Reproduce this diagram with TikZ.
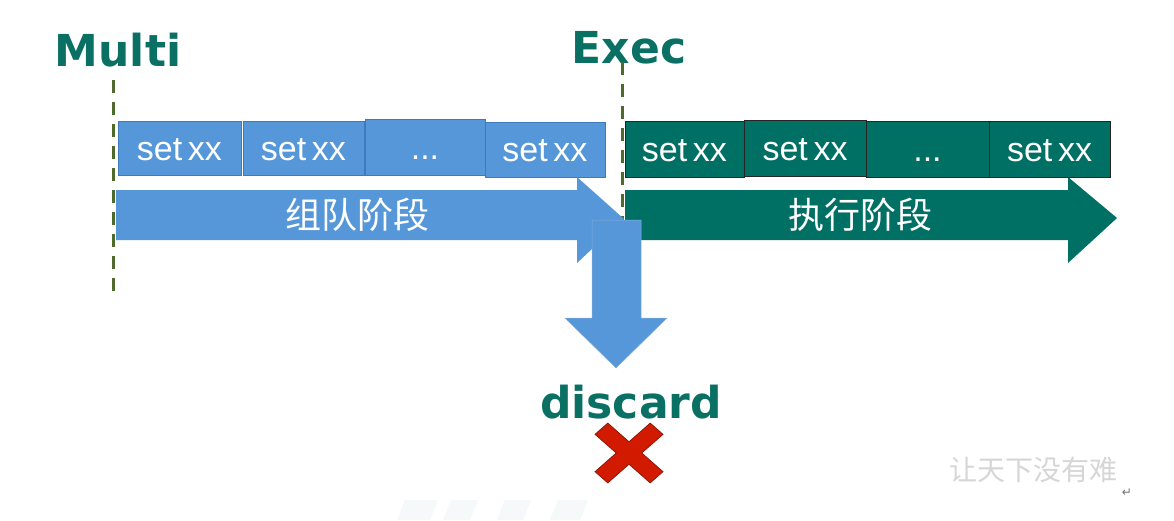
\documentclass[tikz,border=0pt]{standalone}
\usepackage{fontspec}
\setmainfont{Liberation Sans}
\newfontfamily\titlefont{DejaVu Sans}
\newfontfamily\cjk{Noto Sans CJK SC}
\newfontfamily\symfont{DejaVu Sans}
\definecolor{tealtxt}{HTML}{0B7064}
\definecolor{tealfill}{HTML}{006F64}
\definecolor{bluefill}{HTML}{5597D8}
\definecolor{blueedge}{HTML}{3D7BBE}
\definecolor{dashgreen}{HTML}{4E6B2B}
\definecolor{xred}{HTML}{D21A00}
\definecolor{xedge}{HTML}{8A1A0A}
\begin{document}
\begin{tikzpicture}[x=1pt,y=-1pt,
  title/.style={font=\titlefont\bfseries\fontsize{44}{44}\selectfont, text=tealtxt, inner sep=0pt},
  bbox/.style={draw=blueedge, line width=0.8pt, fill=bluefill, text=white, inner sep=0pt, text height=24pt, text depth=0pt, font=\fontsize{34}{34}\selectfont},
  tbox/.style={draw=black!85, line width=0.8pt, fill=tealfill, text=white, inner sep=0pt, text height=24pt, text depth=0pt, font=\fontsize{34}{34}\selectfont},
  phase/.style={text=white, font=\cjk\fontsize{36}{36}\selectfont, inner sep=0pt},
  guide/.style={draw=dashgreen, line width=3pt, dash pattern=on 13pt off 9pt}]
\useasboundingbox (0,0) rectangle (1174,520);
\fill[white] (0,0) rectangle (1174,520);

% faint stripes at bottom
\foreach \a/\b in {397/430,443/470,497/523,550/580}{
  \fill[tealfill!4] (\a+8,500) -- (\b+8,500) -- (\b,520) -- (\a,520) -- cycle;
}

% titles
\node[title] (multi) at (118,50) {Multi};
\node[title] (exec) at (629,48) {Exec};

% guide lines
\coordinate (g1t) at (113,80);
\coordinate (g1b) at (113,296);
\coordinate (g2t) at (622,62);
\coordinate (g2b) at (622,228);
\draw[guide] (g1t) -- (g1b);
\draw[guide] (g2t) -- (g2b);

% blue queue boxes
\node[bbox, minimum width=123pt, minimum height=54pt] (b1) at (179.5,148) {set\,xx};
\node[bbox, minimum width=121pt, minimum height=54pt] (b2) at (303.5,148) {set\,xx};
\node[bbox, minimum width=120pt, minimum height=56pt] (b3) at (425,147) {...};
\node[bbox, minimum width=120pt, minimum height=55pt] (b4) at (545,149.5) {set\,xx};

% blue phase arrow
\fill[bluefill] (116,190) -- (577,190) -- (577,177) -- (624,219) -- (577,263) -- (577,240) -- (116,240) -- cycle;
\node[phase] (p1) at (357,215) {组队阶段};

% teal phase arrow
\fill[tealfill] (625,190) -- (1068,190) -- (1068,177) -- (1117,218) -- (1068,263) -- (1068,240) -- (625,240) -- cycle;
\node[phase] (p2) at (860,215) {执行阶段};

% teal exec boxes
\node[tbox, minimum width=119pt, minimum height=56pt] (t1) at (684.5,149) {set\,xx};
\node[tbox, minimum width=122pt, minimum height=56pt] (t2) at (805,148) {set\,xx};
\node[tbox, minimum width=123pt, minimum height=56pt] (t3) at (927.5,149) {...};
\node[tbox, minimum width=121pt, minimum height=56pt] (t4) at (1049.5,149) {set\,xx};

% discard arrow
\fill[bluefill] (592,220) -- (641,220) -- (641,318) -- (667,318) -- (616,368) -- (565,318) -- (592,318) -- cycle;
\draw[blueedge!60, line width=0.5pt] (592,220) -- (641,220) -- (641,318) -- (667,318) -- (616,368) -- (565,318) -- (592,318) -- cycle;

\node[title] (discard) at (631,402) {discard};

% red cross
\begin{scope}[shift={(629,453)}, yscale=0.88, rotate=45]
\filldraw[fill=xred, draw=xedge, line width=0.8pt]
  (9,9) -- (39,9) -- (39,-9) -- (9,-9) -- (9,-39) -- (-9,-39) -- (-9,-9) -- (-39,-9) -- (-39,9) -- (-9,9) -- (-9,39) -- (9,39) -- cycle;
\end{scope}

% watermark
\node[text=black!16, font=\cjk\fontsize{28}{28}\selectfont, inner sep=0pt] (wm) at (1033,470) {让天下没有难};
\node[text=black!55, font=\symfont\fontsize{12}{12}\selectfont, inner sep=0pt] (ret) at (1127,493) {↵};
\end{tikzpicture}
\end{document}
